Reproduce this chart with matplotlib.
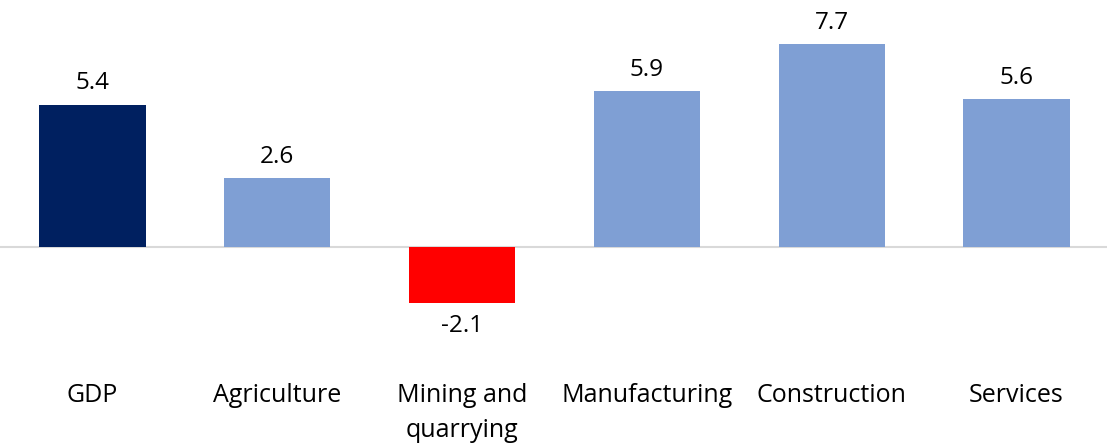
import matplotlib.pyplot as plt

categorias = ["GDP", "Agriculture", "Mining and\nquarrying", "Manufacturing", "Construction", "Services"]
valores = [5.4, 2.6, -2.1, 5.9, 7.7, 5.6]
cores = ["#002060", "#7F9FD4", "#FF0000", "#7F9FD4", "#7F9FD4", "#7F9FD4"]

plt.rcParams['font.family'] = ['Open Sans', 'DejaVu Sans']

fig = plt.figure(figsize=(11.07, 4.43), dpi=100)
ax = fig.add_axes([0, 0.2325, 1, 0.7675])
x = range(len(valores))
ax.bar(x, valores, width=0.575, color=cores, zorder=2)
ax.axhline(0, color="#D9D9D9", linewidth=1.5, zorder=1)

# rotulos de valor acima/abaixo das barras
for i, v in enumerate(valores):
    if v >= 0:
        ax.text(i, v + 0.35, "{:.1f}".format(v), ha="center", va="bottom", fontsize=17.5, color="#000000")
    else:
        ax.text(i, v - 0.45, "{:.1f}".format(v), ha="center", va="top", fontsize=17.5, color="#000000")

# nomes das categorias
for i, c in enumerate(categorias):
    ax.text(i, -5.15, c, ha="center", va="top", fontsize=18, color="#000000",
            linespacing=1.5, clip_on=False)

ax.set_xlim(-0.5, 5.49)
ax.set_ylim(-3.52, 9.36)
ax.axis("off")
fig.savefig("out.png", dpi=100)
